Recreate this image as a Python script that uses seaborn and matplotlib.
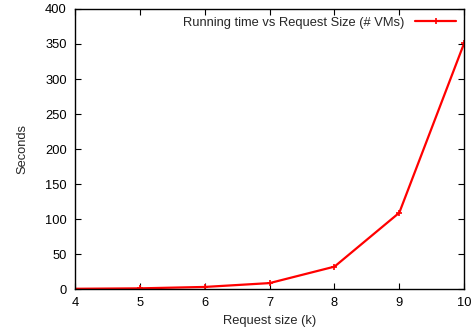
import numpy as np
import pandas as pd
import matplotlib
matplotlib.use("Agg")
import matplotlib.pyplot as plt
import seaborn as sns

# values
request_size = [4, 5, 6, 7, 8, 9, 10]
seconds = [0.4, 1.0, 3.0, 8.5, 32, 109, 351]
series_label = "Running time vs Request Size (# VMs)"

df = pd.DataFrame({"size": request_size, "seconds": seconds})

sns.set_style("ticks")
plt.rcParams["font.family"] = ["Liberation Sans", "DejaVu Sans"]

fig = plt.figure(figsize=(4.76, 3.33), dpi=100)
ax = fig.add_axes([0.158, 0.132, 0.817, 0.841])

sns.lineplot(data=df, x="size", y="seconds", color="#ff0000", label=series_label,
             marker="+", markersize=5, markeredgewidth=1.2, markeredgecolor="#ff0000",
             linewidth=1.6, ax=ax)

ax.set_xlim(4, 10)
ax.set_ylim(0, 400)
ax.set_xticks(range(4, 11))
ax.set_yticks(range(0, 401, 50))
ax.tick_params(direction="in", top=True, right=True, labelsize=9.3, length=4, width=0.8,
               colors="black", pad=6)
for sp in ax.spines.values():
    sp.set_linewidth(1.0)
    sp.set_color("black")

ax.set_xlabel("Request size (k)", fontsize=9.3, labelpad=4)
ax.set_ylabel("Seconds", fontsize=9.3, labelpad=12)

leg = ax.legend(loc="upper right", frameon=False, markerfirst=False, fontsize=9.3,
                handlelength=3.2, borderaxespad=0.2, handletextpad=0.8)

fig.savefig("out.png", dpi=100)
